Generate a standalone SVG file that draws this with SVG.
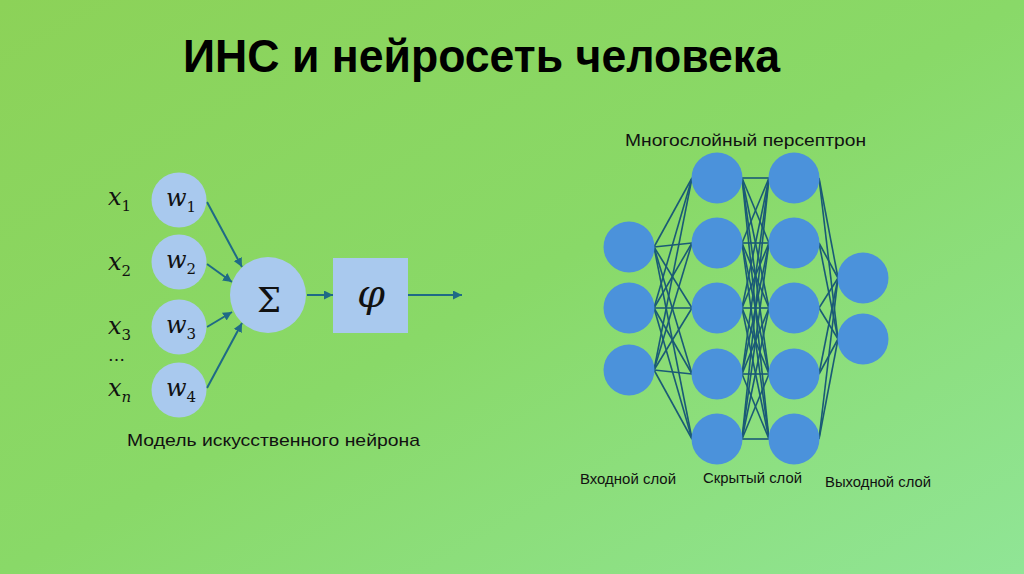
<svg xmlns="http://www.w3.org/2000/svg" width="1024" height="574" viewBox="0 0 1024 574">
<defs>
<linearGradient id="bg" x1="0" y1="0" x2="1" y2="1">
<stop offset="0" stop-color="#8cd258"/>
<stop offset="0.5" stop-color="#89d968"/>
<stop offset="1" stop-color="#90e596"/>
</linearGradient>
<marker id="ah" viewBox="0 0 10 10" refX="10" refY="5" markerWidth="9" markerHeight="9" markerUnits="userSpaceOnUse" orient="auto">
<path d="M0,0 L10,5 L0,10 z" fill="#1f6a86"/>
</marker>
<style>
.lt{fill:#a9c9ee}
.arr{stroke:#1f6a86;stroke-width:2;fill:none;marker-end:url(#ah)}
.mn{fill:#4b92db}
.ml line{stroke:#1a5a76;stroke-width:1.6}
.sans{font-family:"Liberation Sans",Arial,sans-serif;fill:#111}
.math{font-family:"DejaVu Serif","Liberation Serif",serif;fill:#111}
.mi{font-style:italic;font-size:24px}
.sub{font-size:15px}
</style>
</defs>
<rect width="1024" height="574" fill="url(#bg)"/>
<text id="title" class="sans" x="183" y="72" font-size="47" font-weight="bold" fill="#000" style="fill:#000" textLength="597" lengthAdjust="spacingAndGlyphs">ИНС и нейросеть человека</text>

<g id="connectors">
<line class="arr" x1="207" y1="202" x2="242" y2="267"/>
<line class="arr" x1="207" y1="264" x2="232" y2="282"/>
<line class="arr" x1="207" y1="327" x2="232" y2="312"/>
<line class="arr" x1="207" y1="388" x2="242" y2="323"/>
<line class="arr" x1="307" y1="295" x2="333" y2="295"/>
<line class="arr" x1="408" y1="295" x2="462" y2="295"/>
</g>

<g id="inputs">
<text class="math" x="108" y="205"><tspan class="mi">x</tspan><tspan class="sub" dy="6">1</tspan></text>
<text class="math" x="108" y="270"><tspan class="mi">x</tspan><tspan class="sub" dy="6">2</tspan></text>
<text class="math" x="108" y="334"><tspan class="mi">x</tspan><tspan class="sub" dy="6">3</tspan></text>
<text class="math" x="108" y="361" font-size="17">…</text>
<text class="math" x="108" y="396"><tspan class="mi">x</tspan><tspan class="sub" dy="6" font-style="italic">n</tspan></text>
</g>
<g id="w1"><circle class="lt" cx="179" cy="200" r="27.5"/><text class="math" x="166" y="206"><tspan class="mi">w</tspan><tspan class="sub" dy="6">1</tspan></text></g>
<g id="w2"><circle class="lt" cx="179" cy="262" r="27.5"/><text class="math" x="166" y="268"><tspan class="mi">w</tspan><tspan class="sub" dy="6">2</tspan></text></g>
<g id="w3"><circle class="lt" cx="179" cy="327" r="27.5"/><text class="math" x="166" y="333"><tspan class="mi">w</tspan><tspan class="sub" dy="6">3</tspan></text></g>
<g id="w4"><circle class="lt" cx="179" cy="390" r="27.5"/><text class="math" x="166" y="396"><tspan class="mi">w</tspan><tspan class="sub" dy="6">4</tspan></text></g>
<g id="sum"><circle class="lt" cx="268" cy="295" r="38"/><text class="math" x="269" y="312" font-size="34" text-anchor="middle">Σ</text></g>
<g id="phi"><rect class="lt" x="333" y="258" width="75" height="75"/><text class="math" x="371" y="307" font-size="40" font-style="italic" text-anchor="middle">φ</text></g>
<text id="cap1" class="sans" x="127" y="446" font-size="17" textLength="293" lengthAdjust="spacingAndGlyphs">Модель искусственного нейрона</text>

<text id="cap2" class="sans" x="625" y="146" font-size="17" textLength="241" lengthAdjust="spacingAndGlyphs">Многослойный персептрон</text>

<g id="mlp-connectors" class="ml">
<line x1="654" y1="247" x2="692" y2="178"/><line x1="654" y1="247" x2="692" y2="243"/><line x1="654" y1="247" x2="692" y2="308"/><line x1="654" y1="247" x2="692" y2="374"/><line x1="654" y1="247" x2="692" y2="439"/>
<line x1="654" y1="308" x2="692" y2="178"/><line x1="654" y1="308" x2="692" y2="243"/><line x1="654" y1="308" x2="692" y2="308"/><line x1="654" y1="308" x2="692" y2="374"/><line x1="654" y1="308" x2="692" y2="439"/>
<line x1="654" y1="370" x2="692" y2="178"/><line x1="654" y1="370" x2="692" y2="243"/><line x1="654" y1="370" x2="692" y2="308"/><line x1="654" y1="370" x2="692" y2="374"/><line x1="654" y1="370" x2="692" y2="439"/>
<line x1="742" y1="178" x2="769" y2="178"/><line x1="742" y1="178" x2="769" y2="243"/><line x1="742" y1="178" x2="769" y2="308"/><line x1="742" y1="178" x2="769" y2="374"/><line x1="742" y1="178" x2="769" y2="439"/>
<line x1="742" y1="243" x2="769" y2="178"/><line x1="742" y1="243" x2="769" y2="243"/><line x1="742" y1="243" x2="769" y2="308"/><line x1="742" y1="243" x2="769" y2="374"/><line x1="742" y1="243" x2="769" y2="439"/>
<line x1="742" y1="308" x2="769" y2="178"/><line x1="742" y1="308" x2="769" y2="243"/><line x1="742" y1="308" x2="769" y2="308"/><line x1="742" y1="308" x2="769" y2="374"/><line x1="742" y1="308" x2="769" y2="439"/>
<line x1="742" y1="374" x2="769" y2="178"/><line x1="742" y1="374" x2="769" y2="243"/><line x1="742" y1="374" x2="769" y2="308"/><line x1="742" y1="374" x2="769" y2="374"/><line x1="742" y1="374" x2="769" y2="439"/>
<line x1="742" y1="439" x2="769" y2="178"/><line x1="742" y1="439" x2="769" y2="243"/><line x1="742" y1="439" x2="769" y2="308"/><line x1="742" y1="439" x2="769" y2="374"/><line x1="742" y1="439" x2="769" y2="439"/>
<line x1="819" y1="178" x2="838" y2="278"/><line x1="819" y1="178" x2="838" y2="339"/>
<line x1="819" y1="243" x2="838" y2="278"/><line x1="819" y1="243" x2="838" y2="339"/>
<line x1="819" y1="308" x2="838" y2="278"/><line x1="819" y1="308" x2="838" y2="339"/>
<line x1="819" y1="374" x2="838" y2="278"/><line x1="819" y1="374" x2="838" y2="339"/>
<line x1="819" y1="439" x2="838" y2="278"/><line x1="819" y1="439" x2="838" y2="339"/>
</g>

<g id="in1"><circle class="mn" cx="629" cy="247" r="25.5"/></g>
<g id="in2"><circle class="mn" cx="629" cy="308" r="25.5"/></g>
<g id="in3"><circle class="mn" cx="629" cy="370" r="25.5"/></g>
<g id="h1a"><circle class="mn" cx="717" cy="178" r="25.5"/></g>
<g id="h1b"><circle class="mn" cx="717" cy="243" r="25.5"/></g>
<g id="h1c"><circle class="mn" cx="717" cy="308" r="25.5"/></g>
<g id="h1d"><circle class="mn" cx="717" cy="374" r="25.5"/></g>
<g id="h1e"><circle class="mn" cx="717" cy="439" r="25.5"/></g>
<g id="h2a"><circle class="mn" cx="794" cy="178" r="25.5"/></g>
<g id="h2b"><circle class="mn" cx="794" cy="243" r="25.5"/></g>
<g id="h2c"><circle class="mn" cx="794" cy="308" r="25.5"/></g>
<g id="h2d"><circle class="mn" cx="794" cy="374" r="25.5"/></g>
<g id="h2e"><circle class="mn" cx="794" cy="439" r="25.5"/></g>
<g id="out1"><circle class="mn" cx="863" cy="278" r="25.5"/></g>
<g id="out2"><circle class="mn" cx="863" cy="339" r="25.5"/></g>

<text class="sans" x="580" y="484" font-size="14.5" textLength="96" lengthAdjust="spacingAndGlyphs">Входной слой</text>
<text class="sans" x="703" y="483" font-size="14.5" textLength="99" lengthAdjust="spacingAndGlyphs">Скрытый слой</text>
<text class="sans" x="825" y="487" font-size="14.5" textLength="106" lengthAdjust="spacingAndGlyphs">Выходной слой</text>
</svg>
